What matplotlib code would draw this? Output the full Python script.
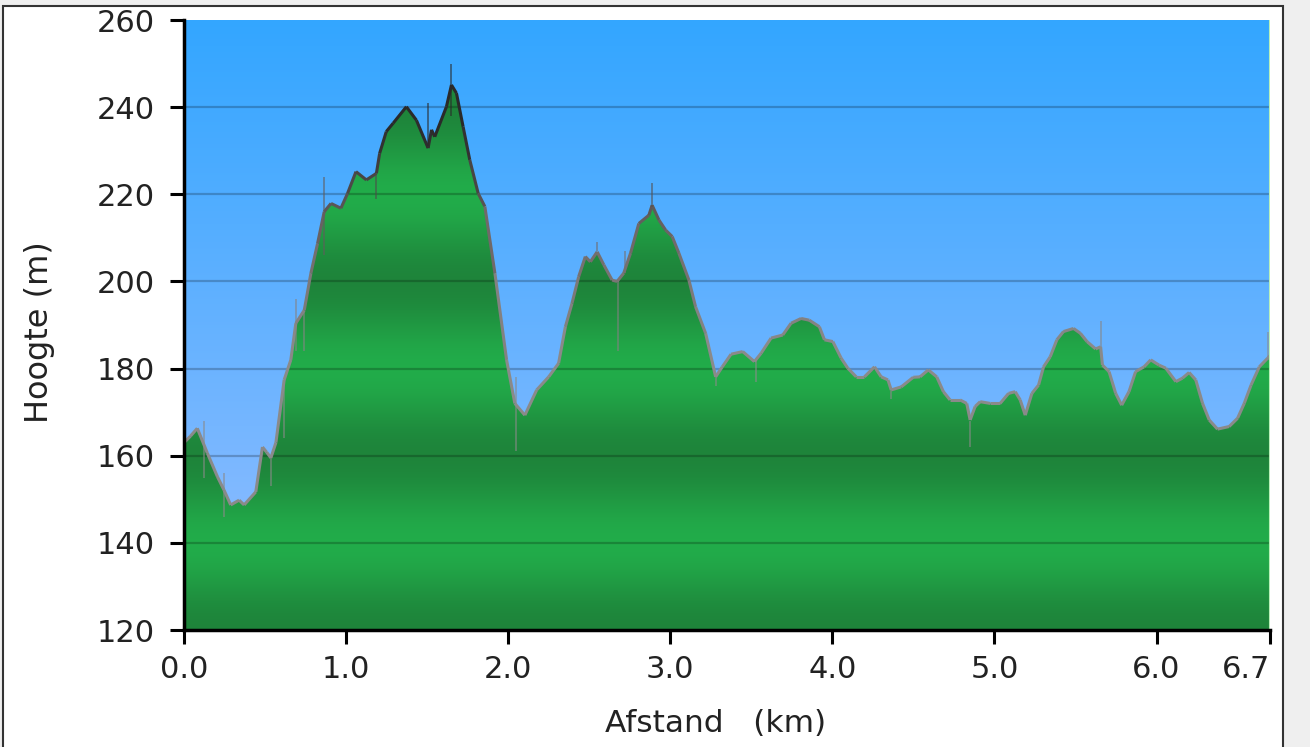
import numpy as np
import matplotlib.pyplot as plt
from matplotlib.collections import LineCollection
from matplotlib.colors import LinearSegmentedColormap
from matplotlib.patches import Rectangle, Polygon

# Profile: distance (km) and elevation (m)
afstand_km = [0.000, 0.040, 0.082, 0.144, 0.206, 0.247, 0.288, 0.340, 0.371, 0.443,
              0.484, 0.510, 0.536, 0.567, 0.618, 0.659, 0.690, 0.742, 0.783, 0.824,
              0.865, 0.907, 0.968, 1.009, 1.061, 1.125, 1.187, 1.207, 1.248, 1.290,
              1.372, 1.434, 1.506, 1.527, 1.547, 1.619, 1.650, 1.681, 1.722, 1.763,
              1.815, 1.856, 1.918, 1.990, 2.041, 2.103, 2.176, 2.250, 2.311, 2.353,
              2.394, 2.435, 2.476, 2.507, 2.549, 2.590, 2.641, 2.672, 2.713, 2.755,
              2.806, 2.868, 2.888, 2.930, 2.971, 3.012, 3.053, 3.115, 3.156, 3.218,
              3.280, 3.321, 3.375, 3.447, 3.519, 3.560, 3.622, 3.694, 3.745, 3.807,
              3.858, 3.920, 3.951, 4.003, 4.054, 4.095, 4.147, 4.198, 4.260, 4.301,
              4.343, 4.363, 4.425, 4.499, 4.541, 4.592, 4.644, 4.685, 4.726, 4.788,
              4.829, 4.850, 4.881, 4.912, 4.974, 5.035, 5.087, 5.128, 5.159, 5.190,
              5.231, 5.272, 5.303, 5.344, 5.385, 5.426, 5.488, 5.530, 5.571, 5.624,
              5.655, 5.666, 5.707, 5.748, 5.785, 5.830, 5.871, 5.923, 5.964, 6.015,
              6.057, 6.119, 6.160, 6.201, 6.242, 6.284, 6.325, 6.376, 6.448, 6.500,
              6.541, 6.583, 6.634, 6.686, 6.700]
hoogte_m = [163.0, 164.5, 166.3, 160.6, 155.2, 152.1, 148.7, 149.8, 148.7, 151.7,
            162.0, 160.8, 159.5, 163.0, 177.4, 182.0, 190.4, 193.4, 201.9, 208.7,
            216.0, 217.9, 216.8, 220.2, 225.2, 223.3, 224.8, 229.4, 234.4, 236.3,
            240.1, 237.0, 230.6, 234.8, 233.2, 240.1, 245.1, 243.2, 235.5, 227.9,
            220.2, 217.2, 201.9, 182.0, 172.0, 169.3, 175.1, 178.1, 181.2, 189.6,
            195.0, 201.1, 205.7, 204.5, 206.8, 203.8, 200.3, 200.0, 201.9, 206.5,
            213.3, 215.2, 217.5, 214.1, 211.8, 210.3, 206.5, 200.3, 194.2, 188.1,
            178.1, 180.4, 183.3, 183.9, 181.6, 183.5, 187.0, 187.7, 190.4, 191.5,
            191.1, 189.6, 186.6, 186.2, 182.4, 180.1, 178.1, 178.1, 180.4, 178.1,
            177.4, 175.1, 175.8, 178.0, 178.1, 179.7, 178.1, 174.7, 172.8, 172.8,
            172.0, 168.2, 171.3, 172.4, 172.0, 172.0, 174.3, 174.7, 172.8, 169.3,
            174.3, 176.2, 180.4, 182.7, 186.6, 188.5, 189.2, 188.1, 186.2, 184.5,
            185.0, 180.8, 179.3, 174.3, 171.6, 174.7, 179.3, 180.4, 182.0, 180.8,
            180.1, 177.0, 177.8, 179.1, 177.4, 172.0, 168.2, 166.1, 166.7, 168.6,
            172.0, 176.2, 180.4, 182.4, 183.0]

# GPS noise spikes: position, lowest and highest value
spike_km = [0.124, 0.247, 0.536, 0.618, 0.690, 0.742, 0.865, 1.187, 1.506, 1.650,
            2.050, 2.549, 2.680, 2.720, 2.888, 3.280, 3.530, 4.363, 4.850, 5.655, 6.686]
spike_lo = [155, 146, 153, 164, 184, 184, 206, 219, 231, 238,
            161, 207, 184, 202, 217, 176, 177, 173, 162, 185, 182]
spike_hi = [168, 156, 160, 177, 196, 193, 224, 225, 241, 250,
            178, 209, 200, 207, 222.5, 178, 182, 175, 168, 191, 188.5]

x_ticks = [0, 1, 2, 3, 4, 5, 6, 6.7]
x_labels = ["0.0", "1.0", "2.0", "3.0", "4.0", "5.0", "6.0", "6.7"]
y_ticks = [120, 140, 160, 180, 200, 220, 240, 260]

x = np.array(afstand_km)
y = np.array(hoogte_m)
xmin, xmax, ymin, ymax = 0, 6.7, 120, 260

fig = plt.figure(figsize=(13.1, 7.47), dpi=100, facecolor='#efefef')
# white panel with dark border, behind the axes
fig.patches.append(Rectangle((3 / 1310, -0.1), 1280 / 1310, 1.1 - 6 / 747,
                             transform=fig.transFigure, facecolor='white',
                             edgecolor='#333333', lw=1.5, zorder=-10))

ax = fig.add_axes([184 / 1310, 1 - 630 / 747, 1086 / 1310, 610 / 747])
ax.set_xlim(xmin, xmax)
ax.set_ylim(ymin, ymax)

# sky gradient
sky = LinearSegmentedColormap.from_list('sky', ['#96beff', '#33a6ff'])
ax.imshow(np.linspace(0, 1, 256).reshape(-1, 1), cmap=sky, origin='lower',
          extent=[xmin, xmax, ymin, ymax], aspect='auto', zorder=0)

# banded green fill, clipped to the profile
elev = np.linspace(ymin, ymax, 700)
t = (1 + np.cos(2 * np.pi * (elev - 120) / 40)) / 2
light = np.array([0.133, 0.675, 0.29])
dark = np.array([0.118, 0.52, 0.23])
rgb = light + (dark - light) * t[:, None]
green = ax.imshow(rgb[:, None, :], origin='lower', extent=[xmin, xmax, ymin, ymax],
                  aspect='auto', zorder=1)
verts = [(xmin, ymin)] + list(zip(x, y)) + [(xmax, ymin)]
clip = Polygon(verts, closed=True, facecolor='none', edgecolor='none')
ax.add_patch(clip)
green.set_clip_path(clip)

# gridlines
for yt in y_ticks[1:-1]:
    ax.axhline(yt, color='black', alpha=0.22, lw=1.6, zorder=1.5)

# outline coloured by height, dark near the top
edge_cmap = LinearSegmentedColormap.from_list('edge', ['#8a8a8a', '#6f6868', '#2a2a2a'])
norm = plt.Normalize(185, 235)
pts = np.column_stack([x, y])
segs = np.stack([pts[:-1], pts[1:]], axis=1)
lc = LineCollection(segs, cmap=edge_cmap, norm=norm, linewidths=2.2, zorder=3)
lc.set_array((y[:-1] + y[1:]) / 2)
ax.add_collection(lc)

mid = (np.array(spike_lo) + np.array(spike_hi)) / 2
ax.vlines(spike_km, spike_lo, spike_hi, colors=edge_cmap(norm(mid)), lw=1.3,
          alpha=0.6, zorder=3)

ax.axvline(xmax, color='#b8f0b8', lw=1.5, zorder=3)

for s in ['top', 'right']:
    ax.spines[s].set_visible(False)
for s in ['left', 'bottom']:
    ax.spines[s].set_linewidth(2.5)
    ax.spines[s].set_color('black')
    ax.spines[s].set_zorder(4)

ax.set_xticks(x_ticks)
ax.set_xticklabels(x_labels)
ax.set_yticks(y_ticks)
ax.tick_params(axis='both', direction='out', length=10, width=2.2,
               labelsize=22, labelcolor='#222222')
ax.tick_params(axis='y', pad=11)
ax.tick_params(axis='x', pad=8)
# last tick label sits left of its tick, as in the original
ax.get_xticklabels()[-1].set_horizontalalignment('right')

fig.text(40 / 1310, 1 - 332 / 747, "Hoogte (m)", rotation=90, ha='center',
         va='center', fontsize=23, color='#222222')
fig.text(716 / 1310, 1 - 724 / 747, "Afstand   (km)", ha='center',
         va='center', fontsize=22.5, color='#222222')

fig.savefig("out.png", dpi=100, facecolor=fig.get_facecolor())
